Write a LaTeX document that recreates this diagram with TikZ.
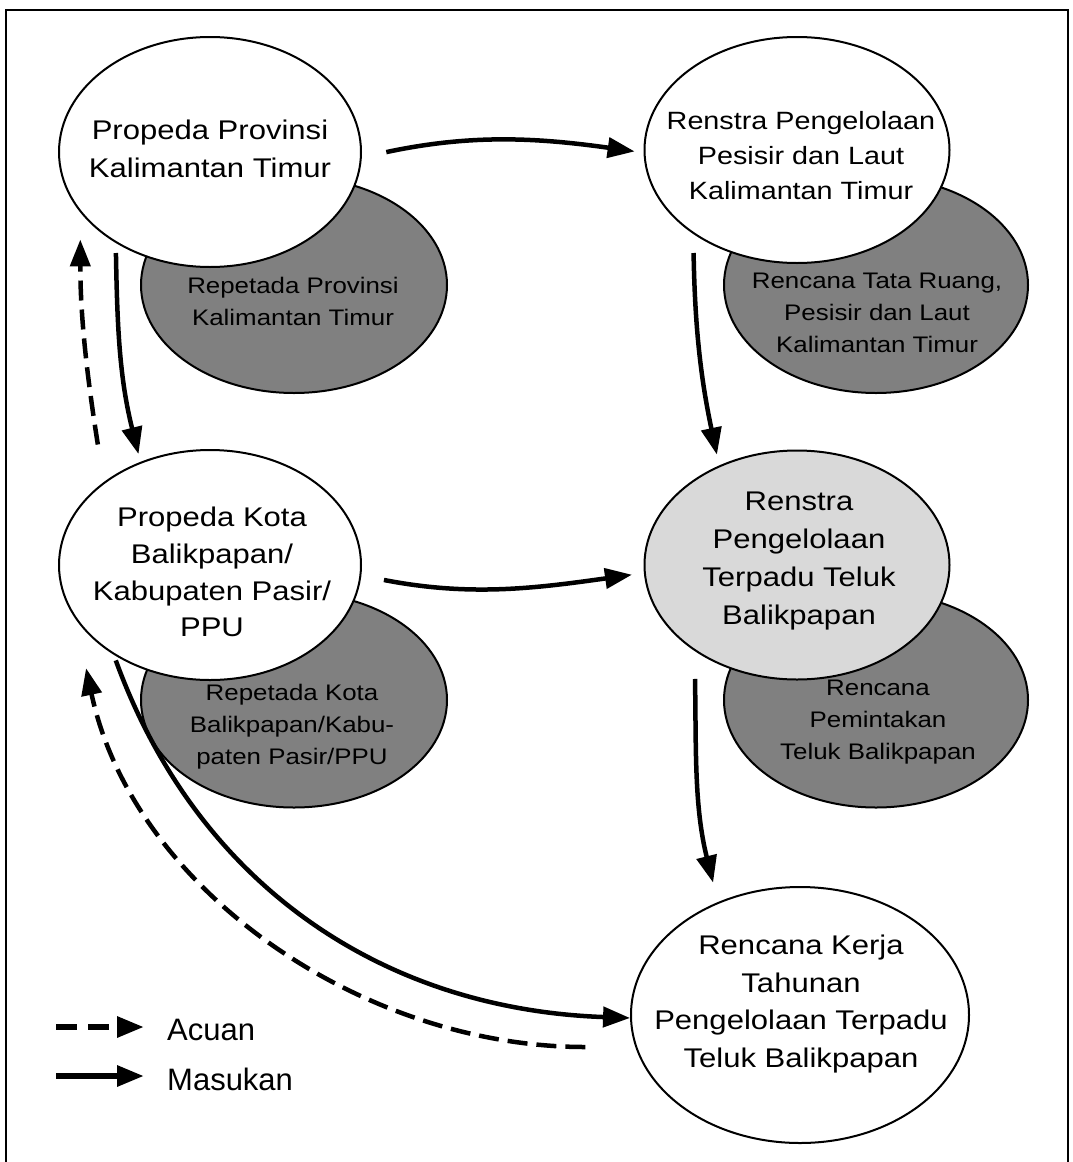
\documentclass[tikz,border=0pt]{standalone}
\usepackage{fontspec}
\setmainfont{Liberation Sans}
\newfontfamily\lebar[FakeStretch=1.15]{Liberation Sans}
\usetikzlibrary{shapes.geometric,arrows.meta}

\begin{document}
\begin{tikzpicture}[x=1pt,y=1pt,
	dokumen/.style={draw,ellipse,line width=2pt,fill=white,inner sep=0pt},
	turunan/.style={draw,ellipse,line width=2pt,fill=gray,inner sep=0pt},
	isi/.style={align=center,inner sep=0pt,font=\lebar\fontsize{27}{37.7}\selectfont},
	isikecil/.style={align=center,inner sep=0pt,font=\lebar\fontsize{22.5}{32}\selectfont},
	masukan/.style={line width=4.5pt,-{Triangle[length=27pt,width=20pt]}},
	acuan/.style={masukan,dash pattern=on 20pt off 9pt}]
	\useasboundingbox (0,0) rectangle (1073,-1162);
	\draw[line width=2.5pt] (6,-1175) rectangle (1068,-10);

	\node[turunan,minimum width=306pt,minimum height=216pt] (repprov) at (294,-285) {};
	\node[isikecil] (trepprov) at (293,-301) {Repetada Provinsi\\Kalimantan Timur};
	\node[dokumen,minimum width=302pt,minimum height=230pt] (prov) at (210,-152) {};
	\node[isi] (tprov) at (210,-149) {Propeda Provinsi\\Kalimantan Timur};

	\node[turunan,minimum width=304pt,minimum height=216pt] (tataruang) at (876,-285) {};
	\node[isikecil] (ttataruang) at (877,-313) {Rencana Tata Ruang,\\Pesisir dan Laut\\Kalimantan Timur};
	\node[dokumen,minimum width=305pt,minimum height=226pt] (pesisir) at (797,-150) {};
	\node[isi,font=\lebar\fontsize{25}{35}\selectfont] (tpesisir) at (801,-156) {Renstra Pengelolaan\\Pesisir dan Laut\\Kalimantan Timur};

	\node[turunan,minimum width=306pt,minimum height=215pt] (repkota) at (294,-700) {};
	\node[isikecil] (trepkota) at (292,-727) {Repetada Kota\\Balikpapan/Kabu-\\paten Pasir/PPU};
	\node[dokumen,minimum width=302pt,minimum height=230pt] (kota) at (210,-565) {};
	\node[isi,font=\lebar\fontsize{27}{36.7}\selectfont] (tkota) at (212,-572) {Propeda Kota\\Balikpapan/\\Kabupaten Pasir/\\PPU};

	\node[turunan,minimum width=304pt,minimum height=215pt] (pemintakan) at (876,-700) {};
	\node[isikecil] (tpemintakan) at (878,-722) {Rencana\\Pemintakan\\Teluk Balikpapan};
	\node[dokumen,fill=gray!30,minimum width=305pt,minimum height=229pt] (terpadu) at (797,-565) {};
	\node[isi] (tterpadu) at (799,-561) {Renstra\\Pengelolaan\\Terpadu Teluk\\Balikpapan};

	\node[dokumen,minimum width=338pt,minimum height=256pt] (kerja) at (800,-1015) {};
	\node[isi] (tkerja) at (801,-1004) {Rencana Kerja\\Tahunan\\Pengelolaan Terpadu\\Teluk Balikpapan};

	% panah
	\draw[masukan,shorten <=25pt,shorten >=9pt] (prov.-2) to[out=12,in=172] (pesisir.181);
	\draw[masukan,shorten <=10pt,shorten >=8pt] (prov.224) to[out=-89,in=104] (kota.124);
	\draw[acuan,shorten <=38pt,shorten >=27pt] (kota.142) to[out=99,in=-90] (prov.205);
	\draw[masukan,shorten <=19pt,shorten >=11pt] (pesisir.219) to[out=-89,in=102] (terpadu.128);
	\draw[masukan,shorten <=23pt,shorten >=12pt] (kota.-4) to[out=-11,in=188] (terpadu.183);
	\draw[masukan,shorten <=28pt,shorten >=20pt] (terpadu.220) to[out=-89,in=104] (kerja.126);
	\draw[masukan,shorten <=6pt] (kota.223) to[out=-70,in=178] (kerja.181);
	\draw[acuan,shorten <=50pt,shorten >=50pt] (kerja.191) to[out=180,in=-78] (kota.202);

	% keterangan
	\coordinate (acuan0) at (56,-1027);
	\node[anchor=base west,inner sep=0pt,font=\fontsize{31}{37}\selectfont] (lacuan) at (167,-1040.7) {Acuan};
	\draw[acuan,line width=6pt,dash pattern=on 21pt off 11pt,shorten >=23pt] (acuan0) -- (acuan0 -| lacuan.west);
	\coordinate (masukan0) at (56,-1076);
	\node[anchor=base west,inner sep=0pt,font=\fontsize{31}{37}\selectfont] (lmasukan) at (167,-1090.7) {Masukan};
	\draw[masukan,line width=6pt,shorten >=23pt] (masukan0) -- (masukan0 -| lmasukan.west);
\end{tikzpicture}
\end{document}
